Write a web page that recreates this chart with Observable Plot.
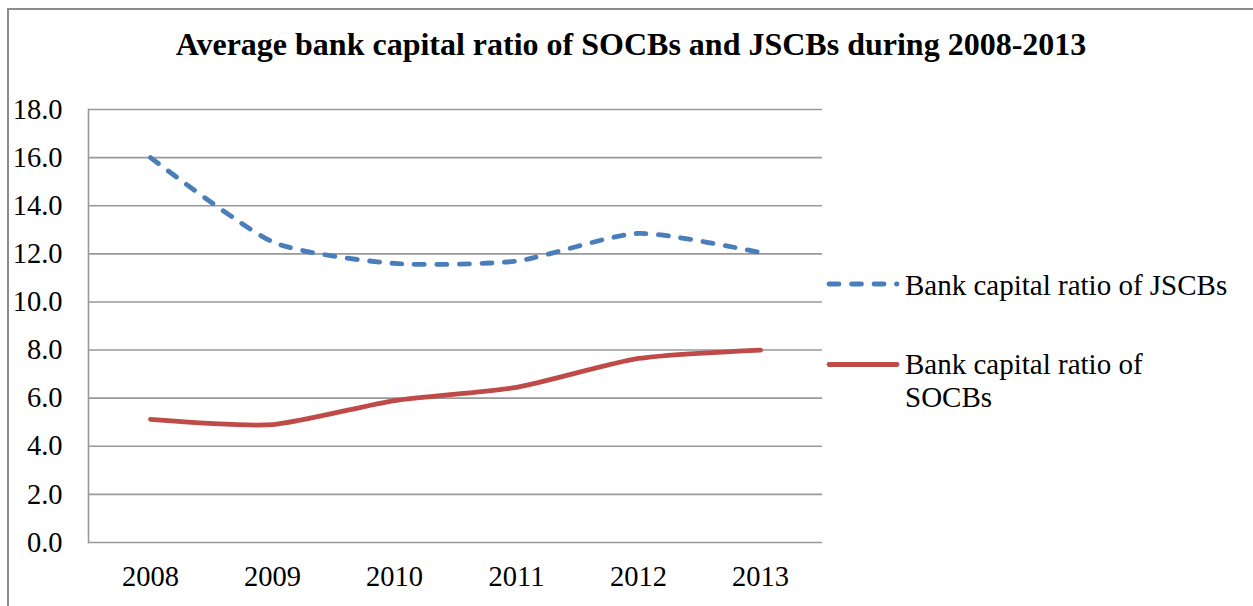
<!DOCTYPE html>
<html>
<head>
<meta charset="utf-8">
<script src="https://cdn.jsdelivr.net/npm/d3@7"></script>
<script src="https://cdn.jsdelivr.net/npm/@observablehq/plot@0.6"></script>
<style>
  html, body { margin: 0; padding: 0; background: #fff; }
  #wrap { position: relative; width: 1253px; height: 606px; overflow: hidden; font-family: "Liberation Serif", "Times New Roman", serif; }
  #border { position: absolute; left: 7px; top: 8px; width: 1300px; height: 700px; border-top: 2px solid #8c8c8c; border-left: 2px solid #8c8c8c; }
  #title { position: absolute; left: 0; width: 1262px; top: 26px; text-align: center; font-weight: bold; font-size: 32px; line-height: 37px; color: #000; white-space: nowrap; }
  #chart { position: absolute; left: 0; top: 0; }
  #legend { position: absolute; left: 0; top: 0; }
</style>
</head>
<body>
<div id="wrap">
  <div id="border"></div>
  <div id="title">Average bank capital ratio of SOCBs and JSCBs during 2008-2013</div>
  <div id="chart"></div>
  <svg id="legend" width="1253" height="606"></svg>
</div>
<script>
const years = ["2008", "2009", "2010", "2011", "2012", "2013"];
const jscbValues = [16.0, 12.5, 11.6, 11.7, 12.85, 12.05];
const socbValues = [5.12, 4.9, 5.9, 6.45, 7.65, 8.0];
const seriesNames = ["Bank capital ratio of JSCBs", "Bank capital ratio of SOCBs"];
const yTicks = [0, 2, 4, 6, 8, 10, 12, 14, 16, 18];

const blue = "#4a7ebb";
const red = "#be4b48";

const jscb = years.map((y, i) => ({year: y, value: jscbValues[i]}));
const socb = years.map((y, i) => ({year: y, value: socbValues[i]}));

const fontSize = "28.5px";
const legendFont = "29px";
const smooth = d3.curveCardinal.tension(0.35);

const plot = Plot.plot({
  width: 1253,
  height: 606,
  marginTop: 109,
  marginBottom: 64,
  marginLeft: 88,
  marginRight: 431,
  style: {fontFamily: '"Liberation Serif", "Times New Roman", serif', fontSize: fontSize, color: "#000", background: "transparent"},
  x: {type: "point", domain: years, padding: 0.5},
  y: {domain: [0, 18]},
  marks: [
    Plot.ruleY(yTicks, {stroke: "#999", strokeWidth: 1.6, strokeOpacity: 1}),
    Plot.frame({anchor: "left", stroke: "#999", strokeWidth: 1.6, strokeOpacity: 1}),
    Plot.axisY(yTicks, {tickSize: 0, tickPadding: 26, tickFormat: d3.format(".1f"), label: null, fontSize: fontSize}),
    Plot.axisX({tickSize: 0, tickPadding: 23, label: null, fontSize: fontSize}),
    Plot.line(socb, {x: "year", y: "value", stroke: red, strokeWidth: 4.8, curve: smooth, strokeLinecap: "round", strokeLinejoin: "round"}),
    Plot.line(jscb, {x: "year", y: "value", stroke: blue, strokeWidth: 4.8, curve: smooth, strokeDasharray: "10,12.5", strokeLinecap: "round", strokeLinejoin: "round"})
  ]
});
document.getElementById("chart").appendChild(plot);

// Legend
const lg = d3.select("#legend");
const ff = '"Liberation Serif", "Times New Roman", serif';
lg.append("line").attr("x1", 829).attr("x2", 897).attr("y1", 284).attr("y2", 284)
  .attr("stroke", blue).attr("stroke-width", 4.8).attr("stroke-dasharray", "10,12.5").attr("stroke-linecap", "round");
lg.append("text").attr("x", 905).attr("y", 294.5).attr("font-family", ff).attr("font-size", legendFont).text(seriesNames[0]);
lg.append("line").attr("x1", 829).attr("x2", 897).attr("y1", 364.5).attr("y2", 364.5)
  .attr("stroke", red).attr("stroke-width", 4.8).attr("stroke-linecap", "round");
const t2 = lg.append("text").attr("font-family", ff).attr("font-size", legendFont);
t2.append("tspan").attr("x", 905).attr("y", 373.5).text("Bank capital ratio of");
t2.append("tspan").attr("x", 905).attr("y", 407).text("SOCBs");
</script>
</body>
</html>
